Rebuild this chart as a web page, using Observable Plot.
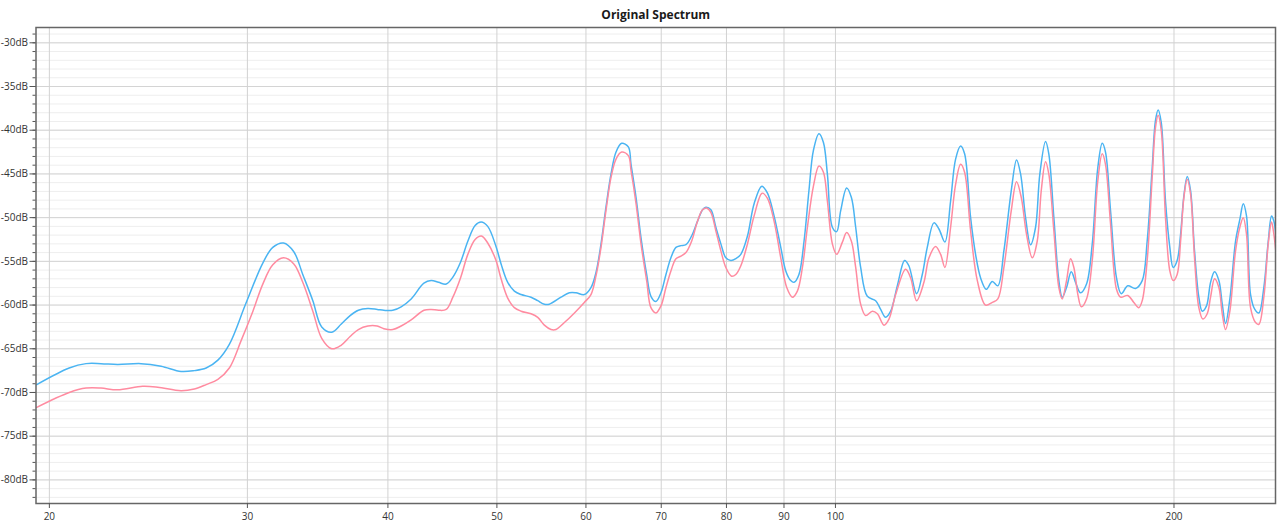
<!DOCTYPE html>
<html>
<head>
<meta charset="utf-8">
<script src="https://cdn.jsdelivr.net/npm/d3@7"></script>
<script src="https://cdn.jsdelivr.net/npm/@observablehq/plot@0.6"></script>
<style>
  html, body { margin: 0; padding: 0; background: #fff; }
  #chart svg { display: block; }
</style>
</head>
<body>
<div id="chart"></div>
<script>
const title = "Original Spectrum";
const xTicks = [20, 30, 40, 50, 60, 70, 80, 90, 100, 200];
const yMajor = [-80, -75, -70, -65, -60, -55, -50, -45, -40, -35, -30];
const yMinor = [-82, -81, -80, -79, -78, -77, -76, -75, -74, -73, -72, -71, -70, -69, -68, -67, -66, -65, -64, -63, -62, -61, -60, -59, -58, -57, -56, -55, -54, -53, -52, -51, -50, -49, -48, -47, -46, -45, -44, -43, -42, -41, -40, -39, -38, -37, -36, -35, -34, -33, -32, -31, -30, -29];

// Blue series (frequency in Hz, level in dB)
const freqBlue = [19.49, 20.83, 21.56, 22.23, 23.00, 24.13, 25.14, 26.19, 26.91, 27.57, 28.24, 28.91, 29.91, 30.96, 31.60, 32.30, 32.99, 33.60, 34.30, 34.93, 35.66, 36.34, 37.02, 37.65, 38.39, 39.13, 39.67, 40.40, 41.10, 41.95, 43.06, 43.70, 44.37, 45.07, 45.69, 46.41, 47.11, 47.82, 48.41, 49.07, 49.91, 50.43, 51.12, 51.82, 52.54, 53.62, 54.36, 55.10, 55.66, 57.02, 58.00, 58.79, 59.80, 60.62, 61.24, 61.88, 62.51, 63.16, 63.81, 64.55, 65.44, 65.80, 66.48, 67.16, 67.94, 68.54, 69.24, 69.96, 70.68, 71.40, 72.14, 72.88, 73.63, 74.49, 75.40, 76.18, 76.70, 77.49, 78.28, 79.09, 79.90, 80.72, 81.55, 82.39, 83.52, 84.66, 86.01, 87.01, 88.19, 89.41, 90.33, 91.25, 91.87, 92.80, 93.77, 94.72, 95.59, 96.68, 97.57, 98.36, 99.37, 100.25, 101.08, 102.32, 103.32, 104.23, 105.30, 106.74, 108.58, 109.70, 110.82, 111.97, 113.50, 115.22, 116.22, 118.08, 119.46, 120.68, 122.34, 123.60, 125.12, 126.59, 127.89, 129.21, 130.27, 131.88, 133.23, 134.61, 136.18, 137.87, 139.44, 141.18, 143.33, 144.89, 146.09, 147.59, 149.11, 150.64, 151.97, 153.75, 154.78, 156.39, 158.00, 159.10, 160.50, 162.06, 163.49, 165.18, 167.21, 169.18, 171.11, 172.67, 173.83, 175.63, 177.79, 179.52, 181.94, 184.84, 187.40, 189.31, 191.27, 192.56, 193.61, 194.84, 196.55, 198.30, 199.67, 201.30, 202.72, 204.09, 205.50, 206.90, 208.59, 210.44, 211.91, 213.77, 215.55, 217.32, 219.25, 220.78, 222.26, 224.24, 226.86, 228.87, 230.47, 232.01, 233.94, 236.00, 237.95, 240.39, 242.57, 244.22, 245.37, 246.70];
const dbBlue = [-69.1, -67.2, -66.7, -66.7, -66.8, -66.7, -67.0, -67.6, -67.5, -67.2, -66.3, -64.5, -59.8, -55.2, -53.4, -52.9, -53.9, -56.5, -59.5, -62.5, -63.1, -62.2, -61.2, -60.6, -60.4, -60.5, -60.6, -60.6, -60.2, -59.3, -57.5, -57.2, -57.4, -57.6, -56.8, -55.1, -52.7, -50.9, -50.5, -51.0, -53.3, -55.3, -57.4, -58.4, -58.8, -59.1, -59.5, -59.9, -59.9, -59.1, -58.6, -58.6, -58.8, -58.0, -56.3, -53.0, -48.8, -45.0, -42.5, -41.5, -41.9, -43.9, -47.7, -52.3, -56.5, -59.0, -59.6, -58.6, -56.5, -54.6, -53.4, -53.2, -53.1, -52.1, -50.4, -49.1, -48.8, -49.1, -51.1, -53.0, -54.6, -54.9, -54.7, -54.2, -52.1, -48.4, -46.4, -47.2, -49.8, -53.4, -56.1, -57.2, -57.4, -56.5, -52.7, -46.9, -42.3, -40.4, -41.4, -45.0, -51.1, -51.6, -49.2, -46.6, -47.7, -51.1, -55.7, -59.0, -59.5, -60.5, -61.4, -60.7, -57.8, -54.9, -55.5, -58.7, -56.5, -53.4, -50.6, -51.3, -52.8, -48.1, -43.3, -41.8, -42.7, -50.0, -54.2, -56.9, -58.2, -57.3, -57.8, -53.8, -46.9, -43.4, -45.0, -50.0, -53.1, -51.1, -45.0, -41.3, -42.7, -50.0, -57.2, -59.1, -58.0, -56.2, -57.4, -58.6, -57.6, -53.0, -44.3, -41.5, -42.5, -49.2, -56.9, -58.7, -57.8, -58.1, -57.2, -52.7, -44.3, -38.9, -37.7, -39.1, -48.1, -53.4, -55.7, -54.9, -51.9, -47.5, -45.3, -46.9, -53.8, -59.1, -60.7, -60.1, -57.4, -56.2, -57.2, -59.9, -62.1, -59.3, -52.7, -50.2, -48.4, -49.8, -58.8, -60.5, -60.9, -58.0, -52.7, -49.8, -50.4, -52.7];

// Pink series (frequency in Hz, level in dB)
const freqPink = [19.49, 20.83, 21.56, 22.23, 23.00, 24.21, 24.97, 26.19, 26.91, 27.57, 28.24, 28.91, 29.61, 30.34, 30.96, 31.60, 32.30, 32.99, 33.60, 34.30, 34.93, 35.66, 36.34, 37.02, 37.65, 38.39, 39.13, 39.67, 40.40, 41.10, 41.95, 43.06, 43.70, 44.37, 45.07, 45.69, 46.41, 47.11, 47.82, 48.44, 49.07, 49.91, 50.43, 51.12, 51.82, 52.54, 53.62, 54.36, 55.10, 55.86, 56.43, 57.41, 58.60, 59.80, 60.62, 61.24, 61.88, 62.51, 63.16, 63.81, 64.55, 65.44, 65.80, 66.48, 67.16, 67.94, 68.54, 69.24, 69.96, 70.68, 71.40, 72.14, 72.88, 73.63, 74.49, 75.40, 76.18, 76.81, 77.49, 78.28, 79.09, 79.90, 80.84, 81.55, 82.39, 83.52, 84.66, 86.06, 87.01, 88.19, 89.41, 90.51, 91.57, 92.50, 93.46, 94.42, 95.59, 96.68, 97.57, 98.36, 99.37, 100.25, 101.43, 102.32, 103.32, 104.23, 105.30, 106.38, 107.85, 108.96, 110.45, 111.58, 113.12, 115.45, 116.65, 118.08, 119.86, 121.11, 122.76, 124.03, 125.12, 126.59, 127.89, 129.21, 130.27, 131.88, 133.71, 135.98, 137.87, 139.44, 141.18, 143.33, 144.89, 146.30, 147.88, 149.63, 151.15, 152.41, 153.75, 154.78, 156.39, 158.00, 159.10, 160.50, 161.83, 162.93, 164.27, 165.42, 167.21, 169.18, 171.11, 172.67, 173.83, 175.63, 177.79, 179.26, 181.94, 184.21, 186.09, 187.40, 189.31, 191.27, 192.56, 193.61, 194.84, 196.55, 198.30, 199.67, 201.30, 202.72, 204.09, 205.50, 206.90, 208.59, 210.44, 212.18, 214.07, 215.55, 217.32, 219.25, 220.78, 222.26, 224.24, 226.86, 228.87, 230.47, 232.01, 233.94, 236.34, 237.95, 240.39, 242.57, 244.22, 245.37, 246.70];
const dbPink = [-71.7, -70.0, -69.5, -69.5, -69.7, -69.3, -69.4, -69.8, -69.6, -69.1, -68.5, -67.2, -64.1, -60.7, -57.6, -55.4, -54.6, -55.3, -57.4, -60.7, -63.8, -65.0, -64.6, -63.6, -62.8, -62.4, -62.4, -62.7, -62.8, -62.4, -61.7, -60.6, -60.5, -60.6, -60.5, -59.1, -56.9, -54.2, -52.5, -52.1, -52.9, -54.9, -57.0, -59.2, -60.3, -60.7, -61.0, -61.4, -62.3, -62.8, -62.8, -62.0, -60.9, -59.7, -58.8, -56.7, -53.4, -49.2, -45.4, -43.3, -42.5, -42.9, -44.6, -48.4, -53.0, -57.2, -60.3, -60.9, -60.1, -58.0, -56.1, -54.7, -54.4, -54.0, -52.7, -50.4, -49.1, -48.9, -49.4, -51.5, -53.8, -55.7, -56.7, -56.5, -55.5, -53.0, -49.8, -47.2, -47.8, -50.4, -54.6, -58.0, -59.1, -58.4, -55.7, -51.1, -46.4, -44.1, -44.8, -48.1, -53.0, -54.2, -52.8, -51.7, -52.7, -55.7, -59.9, -61.2, -60.7, -61.0, -62.3, -61.6, -58.8, -55.9, -56.9, -59.5, -57.4, -54.6, -53.3, -54.2, -55.7, -51.1, -46.2, -43.9, -44.8, -51.5, -57.2, -60.0, -59.7, -59.3, -55.7, -49.2, -45.9, -47.7, -51.9, -54.6, -52.7, -46.9, -43.6, -45.0, -51.5, -58.0, -59.3, -57.2, -54.7, -55.7, -58.8, -60.2, -59.3, -54.9, -45.8, -42.7, -43.9, -50.7, -58.2, -59.1, -58.9, -59.7, -60.3, -59.5, -54.9, -45.4, -39.7, -38.3, -40.0, -50.0, -56.1, -57.2, -56.5, -52.7, -47.7, -45.6, -47.3, -54.6, -60.3, -61.6, -61.0, -59.1, -57.0, -58.0, -61.0, -62.8, -60.7, -53.8, -51.1, -50.0, -51.9, -60.3, -62.0, -62.2, -59.1, -53.0, -50.5, -51.9, -54.6];

const blue = freqBlue.map((f, i) => ({freq: f, db: dbBlue[i]}));
const pink = freqPink.map((f, i) => ({freq: f, db: dbPink[i]}));

const chart = Plot.plot({
  width: 1280,
  height: 527,
  marginTop: 27,
  marginBottom: 24,
  marginLeft: 35.5,
  marginRight: 5,
  x: {type: "log", domain: [19.46, 246.2], label: null},
  y: {domain: [-82.7, -28.25], label: null},
  style: {fontFamily: "'Open Sans', 'Noto Sans', sans-serif", fontSize: "10px", color: "#333", background: "#fff"},
  marks: [
    Plot.ruleY(yMinor, {stroke: "#eeeeee", strokeWidth: 1}),
    Plot.ruleY(yMajor, {stroke: "#d4d4d4", strokeWidth: 1}),
    Plot.ruleX(xTicks, {stroke: "#d2d2d2", strokeWidth: 1}),
    Plot.line(blue, {x: "freq", y: "db", stroke: "#4ab4f2", strokeWidth: 1.5, curve: "catmull-rom", clip: true}),
    Plot.line(pink, {x: "freq", y: "db", stroke: "#ff8ba0", strokeWidth: 1.5, curve: "catmull-rom", clip: true}),
    Plot.frame({stroke: "#666", strokeWidth: 1.5}),
    Plot.axisY(yMinor, {tickSize: 3, fill: "none", stroke: "#555", label: null}),
    Plot.axisY(yMajor, {tickSize: 6, tickPadding: 2, tickFormat: d => d + "dB", stroke: "#555", label: null}),
    Plot.axisX(xTicks, {tickSize: 5, tickPadding: 4, tickFormat: d => String(d), stroke: "#555", label: null}),
    Plot.text([title], {text: d => d, frameAnchor: "top", lineAnchor: "middle", dy: -12, fontWeight: "bold", fontSize: 12, fill: "#1a1a1a"})
  ]
});
document.getElementById("chart").appendChild(chart);
</script>
</body>
</html>
